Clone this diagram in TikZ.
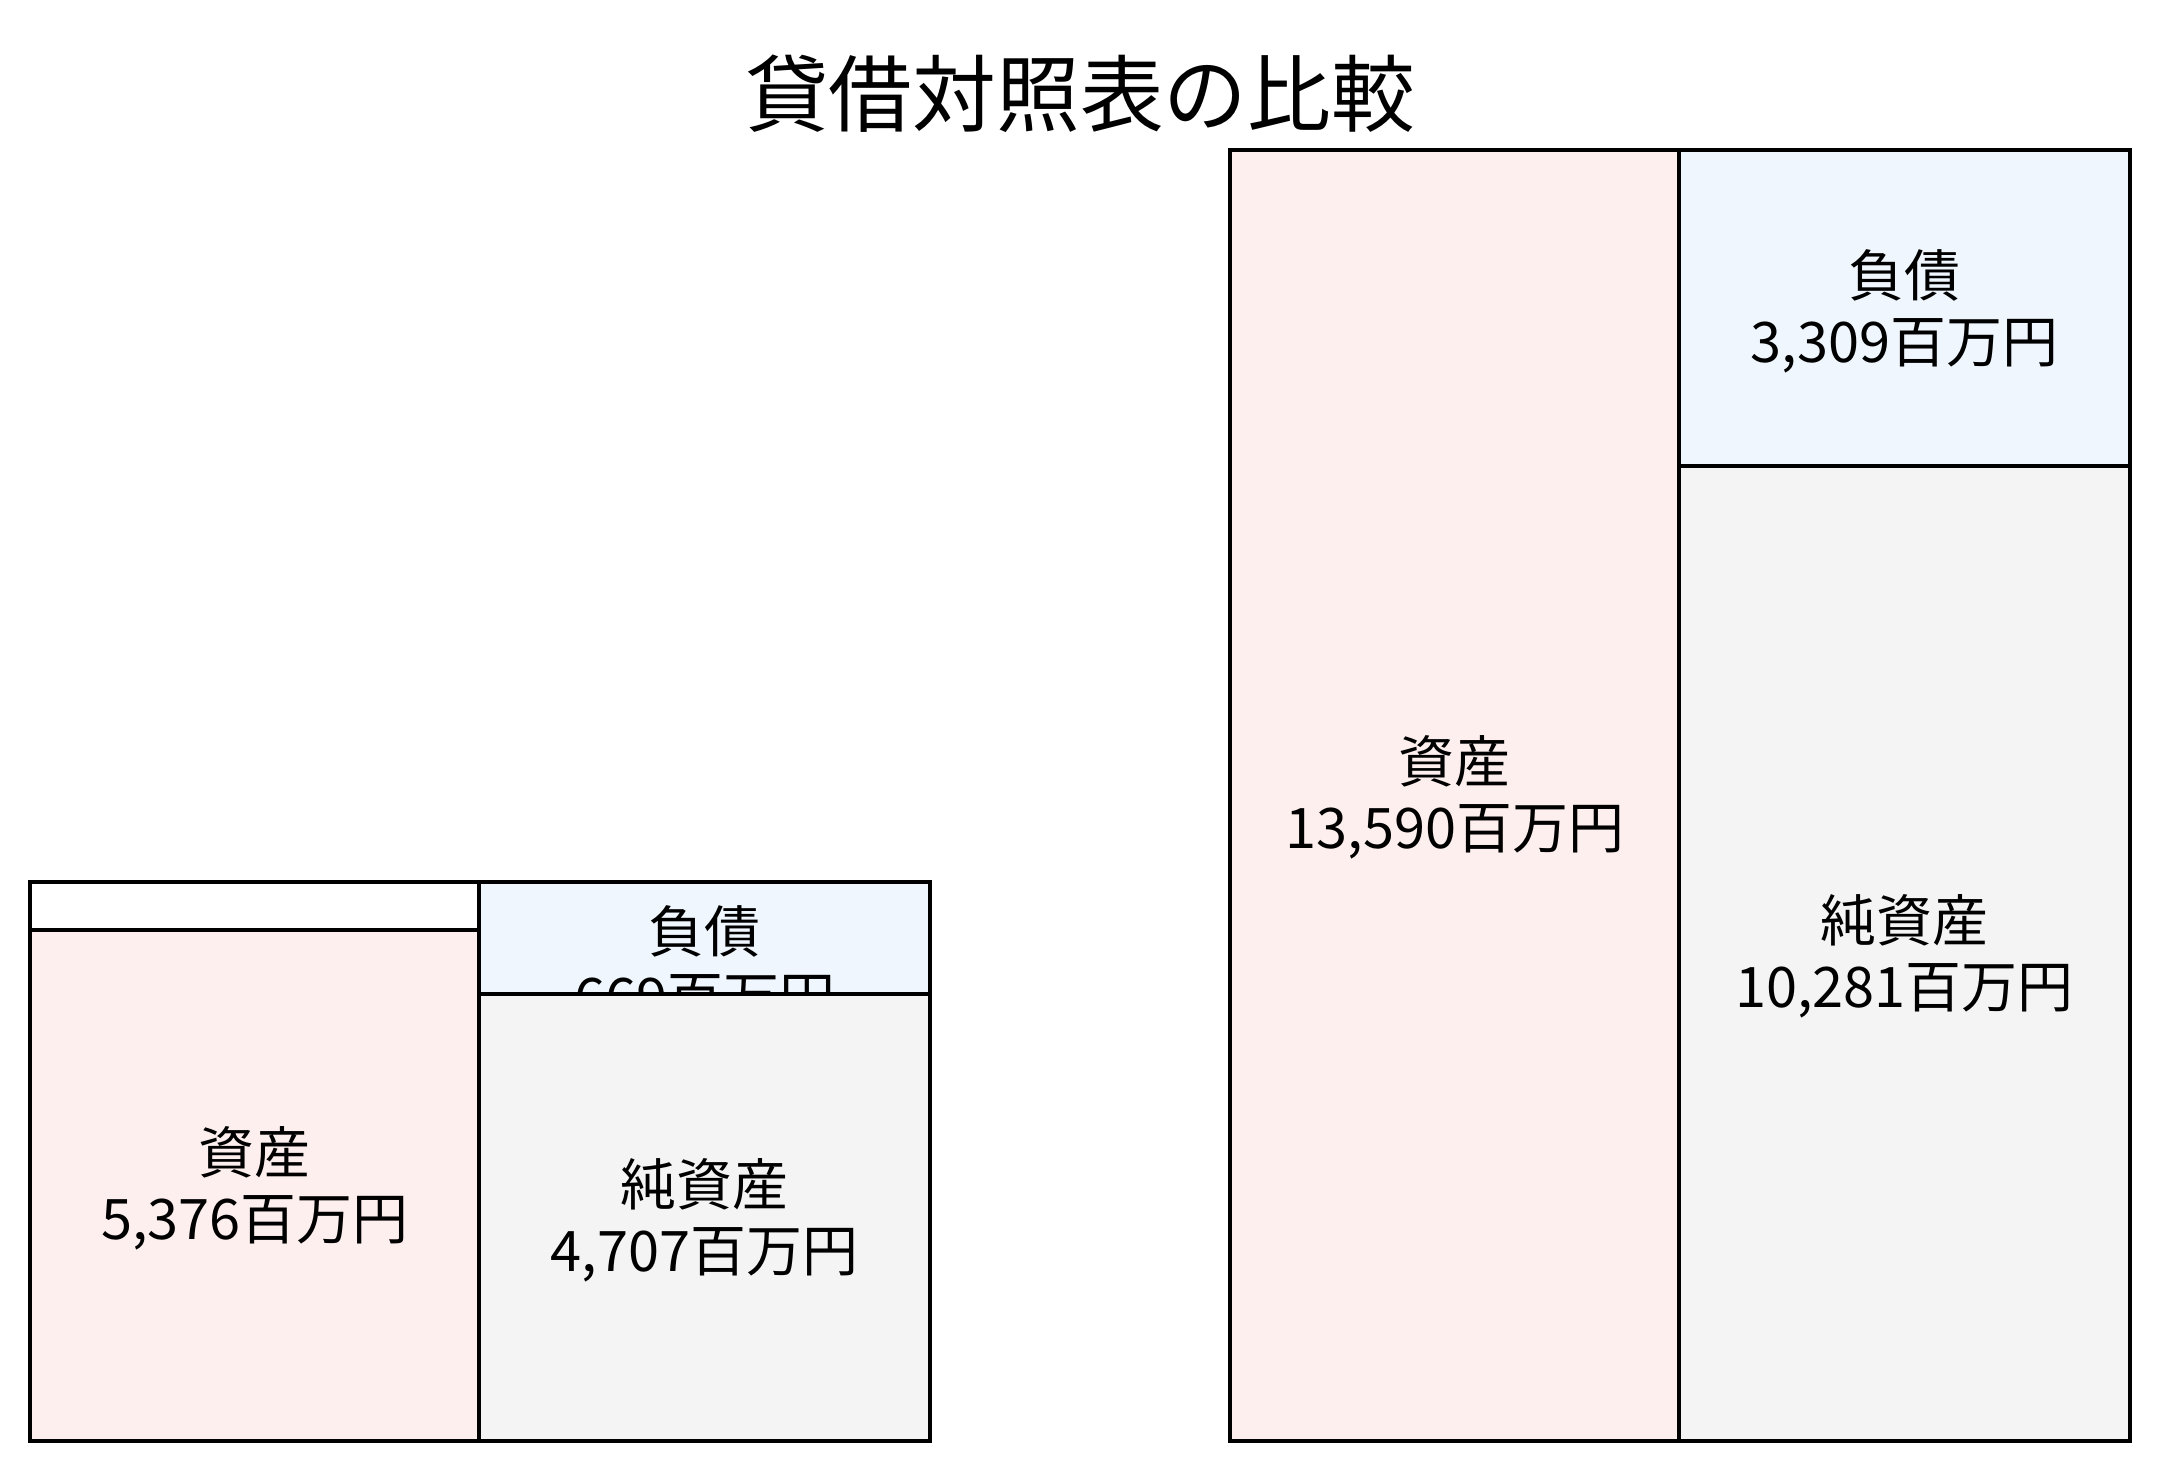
\documentclass[tikz,border=0pt]{standalone}
\usepackage{fontspec}
\setmainfont{Noto Sans CJK JP}
\definecolor{assetc}{RGB}{253,239,238}
\definecolor{liabc}{RGB}{239,246,253}
\definecolor{netc}{RGB}{244,244,244}
\tikzset{
  bsbox/.style={draw=black, line width=1.15pt},
  lbl/.style={align=center, inner sep=0pt, font=\fontsize{15.9pt}{18.8pt}\selectfont},
  ttl/.style={inner sep=0pt, font=\fontsize{23.8pt}{28pt}\selectfont}
}
\begin{document}
\begin{tikzpicture}[x=0.01cm,y=-0.01cm]
\useasboundingbox (0,0) rectangle (2160,1471);
\node[ttl] (title) at (1080,94) {貸借対照表の比較};
% left chart
\path[bsbox, fill=white] (30.3,881.7) rectangle (479.4,930.4);
\path[bsbox, fill=assetc] (30.3,930.4) rectangle (479.4,1441);
\node[lbl] (la) at (254.8,1188) {資産\\5,376百万円};
\path[bsbox, fill=liabc] (479.4,881.7) rectangle (929.9,993.9);
\node[lbl] (ll) at (704.6,964) {負債\\669百万円};
\path[bsbox, fill=netc] (479.4,993.9) rectangle (929.9,1441);
\node[lbl] (ln) at (704.6,1220) {純資産\\4,707百万円};
% right chart
\path[bsbox, fill=assetc] (1230.2,150.2) rectangle (1679.3,1441);
\node[lbl] (ra) at (1454.7,797) {資産\\13,590百万円};
\path[bsbox, fill=liabc] (1679.3,150.2) rectangle (2129.8,465.6);
\node[lbl] (rl) at (1904.5,311) {負債\\3,309百万円};
\path[bsbox, fill=netc] (1679.3,465.6) rectangle (2129.8,1441);
\node[lbl] (rn) at (1904.5,956) {純資産\\10,281百万円};
\end{tikzpicture}
\end{document}
